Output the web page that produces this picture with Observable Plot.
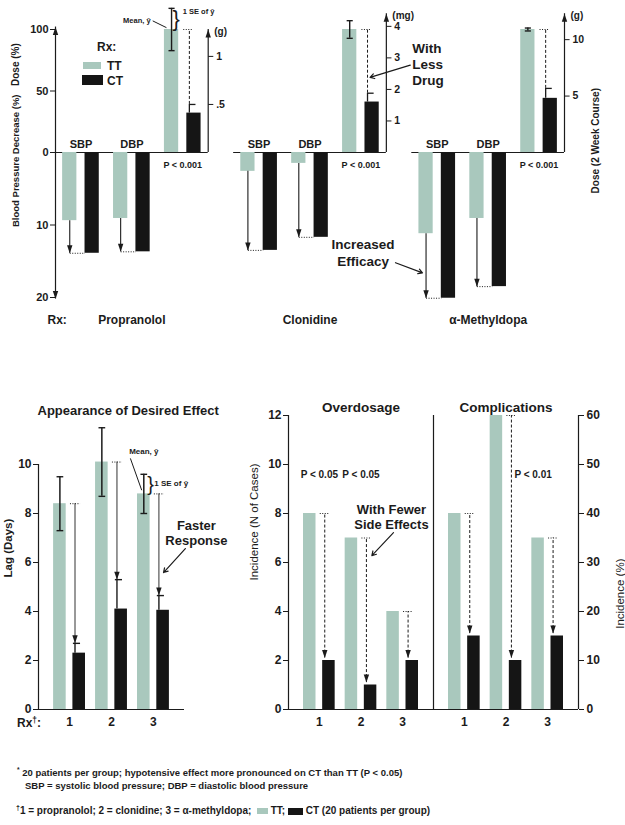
<!DOCTYPE html>
<html>
<head>
<meta charset="utf-8">
<script src="https://cdn.jsdelivr.net/npm/d3@7"></script>
<script src="https://cdn.jsdelivr.net/npm/@observablehq/plot@0.6"></script>
<style>
  body { margin: 0; background: #fff; }
  #fig { position: relative; width: 625px; height: 825px; background: #fff; color: #1b1b1b;
         font-family: "Liberation Sans", Arial, Helvetica, sans-serif; font-weight: bold; overflow: hidden; }
  #fig .html { position: absolute; white-space: nowrap; line-height: 1; }
  #fig .sw { display: inline-block; vertical-align: middle; }
  #fig sup { font-size: 70%; vertical-align: 4px; line-height: 0; }
</style>
</head>
<body>
<div id="fig"></div>
<script>
// ---------- Dose and blood-pressure response by drug ----------
const drugs = ["Propranolol", "Clonidine", "α-Methyldopa"];
const measures = ["SBP", "DBP"];
// blood pressure decrease (%)
const sbpTT = [9.4, 2.6, 11.2];
const sbpCT = [13.9, 13.5, 20.1];
const dbpTT = [9.1, 1.5, 9.1];
const dbpCT = [13.7, 11.7, 18.5];
// mean dose over the 2 week course, in each drug's own unit, with SE
const doseUnits = ["g", "mg", "g"];
const doseTT = [1.28, 3.9, 10.9];
const doseTTse = [0.22, 0.28, 0.13];
const doseCT = [0.41, 1.6, 4.8];
const doseCTse = [0.09, 0.28, 0.88];
const doseTicks = [[0.5, 1], [1, 2, 3, 4], [5, 10]];
const doseTickLabels = [[".5", "1"], ["1", "2", "3", "4"], ["5", "10"]];
const doseAxisMax = [1.28, 4.4, 12.3];
const pctTicks = [0, 50, 100];
const bpTicks = [10, 20];

// ---------- Lag, overdosage and complications ----------
const rx = [1, 2, 3];
const lagTT = [8.4, 10.1, 8.8];
const lagTTse = [1.1, 1.4, 0.8];
const lagCT = [2.3, 4.1, 4.05];
const lagCTse = [0.4, 1.2, 0.6];
const lagTicks = [0, 2, 4, 6, 8, 10];
const panels = ["Overdosage", "Complications"];
const overdoseTT = [8, 7, 4];
const overdoseCT = [2, 1, 2];
const complicationTT = [8, 12, 7];
const complicationCT = [3, 2, 3];
const patientsPerGroup = 20;
const caseTicks = [0, 2, 4, 6, 8, 10, 12];
const pTests = [
  {panel: "Overdosage", rx: 1, label: "P < 0.05"},
  {panel: "Overdosage", rx: 2, label: "P < 0.05"},
  {panel: "Complications", rx: 2, label: "P < 0.01"}
];

// ---------- shared styling ----------
const ink = "#1b1b1b", ttFill = "#a9c8bd", ctFill = "#151515";
const baseStyle = {background: "transparent", color: ink, overflow: "visible",
  fontFamily: "'Liberation Sans', Arial, Helvetica, sans-serif", fontSize: "11px", fontWeight: "bold"};
const K = v => () => v;
// filled arrowheads with the tip at the data point
const headUp = {draw(c) { c.moveTo(0, 0); c.lineTo(-2.7, 8); c.lineTo(2.7, 8); c.closePath(); }};
const headDown = {draw(c) { c.moveTo(0, 0); c.lineTo(-2.7, -8); c.lineTo(2.7, -8); c.closePath(); }};

const fig = document.getElementById("fig");
function place(node, left, top) {
  node.style.position = "absolute";
  node.style.left = left + "px";
  node.style.top = top + "px";
  fig.appendChild(node);
}
function html(text, left, top, size, extra = "") {
  const el = document.createElement("div");
  el.className = "html";
  el.innerHTML = text;
  el.style.cssText += `left:${left}px;top:${top}px;font-size:${size}px;${extra}`;
  fig.appendChild(el);
}

// ---------- top figure geometry (x in slot units) ----------
const GROUP = 3.5, OFF = 0.22, HALF = 0.14, EDGE = 0.05;
const center = (i, c) => i * GROUP + c + 0.5;
const doseRows = drugs.map((drug, i) => ({
  i, drug, x: center(i, 2),
  tt: 100, ttSe: 100 * doseTTse[i] / doseTT[i],
  ct: 100 * doseCT[i] / doseTT[i], ctSe: 100 * doseCTse[i] / doseTT[i],
  right: i * GROUP + 3, top: 100 * doseAxisMax[i] / doseTT[i], unit: `(${doseUnits[i]})`
}));
const doseTickRows = drugs.flatMap((d, i) => doseTicks[i].map((v, k) => ({
  right: i * GROUP + 3, y: 100 * v / doseTT[i], label: doseTickLabels[i][k]
})));
const bpRows = drugs.flatMap((drug, i) => [
  {i, c: 0, x: center(i, 0), tt: sbpTT[i], ct: sbpCT[i]},
  {i, c: 1, x: center(i, 1), tt: dbpTT[i], ct: dbpCT[i]}
]);
const ttX = d => d.x - OFF, ctX = d => d.x + OFF, leadX = d => d.x + OFF - HALF + EDGE;
const groupIdx = drugs.map((d, i) => i);

// ---- dose, above the baseline ----
const dosePlot = Plot.plot({
  width: 625, height: 160, marginLeft: 55, marginRight: 61, marginTop: 29, marginBottom: 8,
  x: {domain: [0, 10], axis: null},
  y: {domain: [0, 100], axis: null},
  style: baseStyle,
  marks: [
    Plot.ruleX([0], {x: K(0), y1: K(0), y2: K(102), stroke: ink, strokeWidth: 1.2}),
    Plot.dot([0], {x: K(0), y: K(102), symbol: headUp, fill: ink}),
    Plot.axisY({ticks: pctTicks, tickSize: 5, tickPadding: 2, fontSize: 11, label: null}),
    Plot.text(["Dose (%)"], {frameAnchor: "left", rotate: -90, dx: -40, dy: -5, fontSize: 10}),
    Plot.ruleY(groupIdx, {x1: i => i * GROUP, x2: i => i * GROUP + 3, y: K(0), stroke: ink, strokeWidth: 1.2}),
    Plot.text(bpRows, {x: "x", y: K(0), dy: -8, text: d => measures[d.c], fontSize: 11}),
    // bars
    Plot.rectY(doseRows, {x1: d => ttX(d) - HALF, x2: d => ttX(d) + HALF, y1: K(0), y2: "tt", fill: ttFill}),
    Plot.rectY(doseRows, {x1: d => ctX(d) - HALF, x2: d => ctX(d) + HALF, y1: K(0), y2: "ct", fill: ctFill}),
    // SE of the mean
    Plot.ruleX(doseRows, {x: ttX, y1: d => d.tt - d.ttSe, y2: d => d.tt + d.ttSe, stroke: ink, strokeWidth: 1.4}),
    Plot.link(doseRows.flatMap(d => [d.tt - d.ttSe, d.tt + d.ttSe].map(y => ({x: ttX(d), y}))),
      {x1: d => d.x - 0.06, x2: d => d.x + 0.06, y1: "y", y2: "y", stroke: ink, strokeWidth: 1.4}),
    Plot.ruleX(doseRows, {x: leadX, y1: "ct", y2: d => d.ct + d.ctSe, stroke: ink, strokeWidth: 1.3}),
    Plot.link(doseRows, {x1: leadX, x2: d => leadX(d) + 0.12, y1: d => d.ct + d.ctSe, y2: d => d.ct + d.ctSe, stroke: ink, strokeWidth: 1.3}),
    // TT level carried over to CT
    Plot.ruleX(doseRows, {x: leadX, y1: d => d.ct + d.ctSe, y2: "tt", stroke: ink, strokeWidth: 1, strokeDasharray: "3,2"}),
    Plot.link(doseRows, {x1: d => leadX(d) - 0.12, x2: d => leadX(d) + 0.07, y1: "tt", y2: "tt", stroke: ink, strokeWidth: 1, strokeDasharray: "1,1.5"}),
    // per-drug dose axes
    Plot.ruleX(doseRows, {x: "right", y1: K(0), y2: "top", stroke: ink, strokeWidth: 1.2}),
    Plot.dot(doseRows, {x: "right", y: "top", symbol: headUp, fill: ink}),
    Plot.link(doseTickRows, {x1: "right", x2: d => d.right + 0.1, y1: "y", y2: "y", stroke: ink}),
    Plot.text(doseTickRows, {x: "right", y: "y", text: "label", dx: 8, textAnchor: "start", fontSize: 10.5}),
    Plot.text(doseRows, {x: "right", y: "top", text: "unit", dx: 6, dy: 2, textAnchor: "start", fontSize: 10}),
    Plot.text(["Dose (2 Week Course)"], {frameAnchor: "right", rotate: -90, dx: 31, dy: -3, fontSize: 10}),
    // mean / SE key on the first dose bar
    Plot.text(doseRows.slice(0, 1), {x: ttX, y: "tt", dx: -21, dy: -9, text: K("Mean, ȳ"), textAnchor: "end", fontSize: 7.5}),
    Plot.link(doseRows.slice(0, 1), {x1: d => ttX(d) - 0.37, y1: d => d.tt + 7, x2: d => ttX(d) - 0.1, y2: d => d.tt + 1.5, stroke: ink, strokeWidth: 1}),
    Plot.text(doseRows.slice(0, 1), {x: d => ttX(d) + 0.09, y: d => d.tt + d.ttSe / 2, text: K("}"), fontSize: 22, fontWeight: "normal"}),
    Plot.text(doseRows.slice(0, 1), {x: d => ttX(d) + 0.22, y: d => d.tt + d.ttSe, dy: 3, text: K("1 SE of ȳ"), textAnchor: "start", fontSize: 7.5}),
    // less drug
    Plot.text(doseRows.slice(1, 2), {x: "right", y: "ct", dx: 26, dy: -38, text: K("With\nLess\nDrug"), textAnchor: "start", fontSize: 13.5, lineHeight: 1.18}),
    Plot.arrow(doseRows.slice(1, 2), {x1: d => leadX(d) + 0.84, y1: d => d.ct + 30, x2: d => leadX(d) + 0.05, y2: d => d.ct + 20,
      stroke: ink, strokeWidth: 1.2, headLength: 6})
  ]
});
place(dosePlot, 0, 0);

// ---- blood pressure decrease, below the baseline ----
const efficacy = bpRows.filter(d => d.i === 2 && d.c === 0);
const bpPlot = Plot.plot({
  width: 625, height: 190, marginLeft: 55, marginRight: 61, marginTop: 8, marginBottom: 37,
  x: {domain: [0, 10], axis: null},
  y: {domain: [0, 20], reverse: true, axis: null},
  style: baseStyle,
  marks: [
    Plot.ruleX([0], {x: K(0), y1: K(0), y2: K(20.2), stroke: ink, strokeWidth: 1.2}),
    Plot.dot([0], {x: K(0), y: K(20.2), symbol: headDown, fill: ink}),
    Plot.axisY({ticks: bpTicks, tickSize: 5, tickPadding: 2, fontSize: 11, label: null}),
    Plot.text(["Blood Pressure Decrease (%)"], {frameAnchor: "left", rotate: -90, dx: -40, dy: 2, fontSize: 9.5}),
    Plot.rectY(bpRows, {x1: d => ttX(d) - HALF, x2: d => ttX(d) + HALF, y1: K(0), y2: "tt", fill: ttFill}),
    Plot.rectY(bpRows, {x1: d => ctX(d) - HALF, x2: d => ctX(d) + HALF, y1: K(0), y2: "ct", fill: ctFill}),
    Plot.ruleX(bpRows, {x: ttX, y1: "tt", y2: "ct", stroke: ink, strokeWidth: 1.1}),
    Plot.dot(bpRows, {x: ttX, y: "ct", symbol: headDown, fill: ink}),
    Plot.link(bpRows, {x1: ttX, x2: d => ctX(d) - HALF, y1: "ct", y2: "ct", stroke: ink, strokeWidth: 1, strokeDasharray: "1,1.5"}),
    Plot.text(doseRows, {x: "x", y: K(0), dy: 13, text: K("P < 0.001"), fontSize: 9}),
    Plot.text(drugs, {x: (d, i) => center(i, 1), y: K(20), dy: 23, text: d => d, fontSize: 12}),
    Plot.text(["Rx:"], {x: K(0), y: K(20), dx: -8, dy: 23, textAnchor: "start", fontSize: 12}),
    Plot.text(efficacy, {x: ttX, y: "ct", dx: -63, dy: -46, text: K("Increased\nEfficacy"), fontSize: 13.5, lineHeight: 1.2}),
    Plot.arrow(efficacy, {x1: d => ttX(d) - 0.6, y1: d => d.ct - 4.9, x2: d => ttX(d) - 0.07, y2: d => d.ct - 3.5,
      stroke: ink, strokeWidth: 1.2, headLength: 6})
  ]
});
place(bpPlot, 0, 144);

// ---------- bottom panels (x in Rx units) ----------
const XDOM = [0.26, 3.74];
const OFF2 = 0.23, HALF2 = 0.15, EDGE2 = 0.05;
const tx = d => d.rx - OFF2, cxx = d => d.rx + OFF2, lx = d => d.rx + OFF2 - HALF2 + EDGE2;
const lagRows = rx.map((r, k) => ({rx: r, tt: lagTT[k], ttSe: lagTTse[k], ct: lagCT[k], ctSe: lagCTse[k]}));
const lagKey = lagRows.slice(2, 3);
const rxFormat = d => String(d);

const lagPlot = Plot.plot({
  width: 250, height: 360, marginLeft: 38, marginRight: 66, marginTop: 35, marginBottom: 31,
  x: {domain: XDOM, axis: null},
  y: {domain: [0, 12], axis: null},
  style: baseStyle,
  marks: [
    Plot.text(["Appearance of Desired Effect"], {frameAnchor: "top-left", dx: -1, dy: -10, textAnchor: "start", fontSize: 13}),
    Plot.ruleY([0], {y: K(0), stroke: ink, strokeWidth: 1.2}),
    Plot.ruleX([0], {x: K(XDOM[0]), y1: K(0), y2: K(10), stroke: ink, strokeWidth: 1.2}),
    Plot.axisY({ticks: lagTicks, tickSize: 5, tickPadding: 2, fontSize: 12, label: null}),
    Plot.axisX({ticks: rx, tickFormat: rxFormat, tickSize: 0, tickPadding: 8, fontSize: 12, label: null}),
    Plot.text(["Lag (Days)"], {frameAnchor: "left", rotate: -90, dx: -30, dy: 15, fontSize: 11.5}),
    Plot.rectY(lagRows, {x1: d => tx(d) - HALF2, x2: d => tx(d) + HALF2, y1: K(0), y2: "tt", fill: ttFill}),
    Plot.rectY(lagRows, {x1: d => cxx(d) - HALF2, x2: d => cxx(d) + HALF2, y1: K(0), y2: "ct", fill: ctFill}),
    Plot.ruleX(lagRows, {x: tx, y1: d => d.tt - d.ttSe, y2: d => d.tt + d.ttSe, stroke: ink, strokeWidth: 1.5}),
    Plot.link(lagRows.flatMap(d => [d.tt - d.ttSe, d.tt + d.ttSe].map(y => ({x: tx(d), y}))),
      {x1: d => d.x - 0.08, x2: d => d.x + 0.08, y1: "y", y2: "y", stroke: ink, strokeWidth: 1.4}),
    Plot.ruleX(lagRows, {x: lx, y1: "ct", y2: d => d.ct + d.ctSe, stroke: ink, strokeWidth: 1.4}),
    Plot.link(lagRows, {x1: d => lx(d) - 0.05, x2: d => lx(d) + 0.12, y1: d => d.ct + d.ctSe, y2: d => d.ct + d.ctSe, stroke: ink, strokeWidth: 1.4}),
    Plot.ruleX(lagRows, {x: lx, y1: d => d.ct + d.ctSe, y2: "tt", stroke: ink, strokeWidth: 0.9}),
    Plot.dot(lagRows, {x: lx, y: d => d.ct + d.ctSe, symbol: headDown, fill: ink}),
    Plot.link(lagRows, {x1: d => lx(d) - 0.12, x2: d => lx(d) + 0.12, y1: "tt", y2: "tt", stroke: ink, strokeWidth: 1, strokeDasharray: "1,1.5"}),
    // mean / SE key
    Plot.text(lagKey, {x: tx, y: "tt", dy: -42, text: K("Mean, ȳ"), fontSize: 8}),
    Plot.link(lagKey, {x1: d => tx(d) - 0.32, y1: d => d.tt + 1.45, x2: d => tx(d) - 0.05, y2: d => d.tt + 0.15, stroke: ink, strokeWidth: 1}),
    Plot.text(lagKey, {x: d => tx(d) + 0.16, y: d => d.tt + d.ttSe / 2, text: K("}"), fontSize: 20, fontWeight: "normal"}),
    Plot.text(lagKey, {x: d => tx(d) + 0.25, y: d => d.tt + 0.42, text: K("1 SE of ȳ"), textAnchor: "start", fontSize: 8}),
    // faster response
    Plot.text(lagKey, {x: lx, y: "tt", dx: 37.5, dy: 39, text: K("Faster\nResponse"), fontSize: 13, lineHeight: 1.15}),
    Plot.arrow(lagKey, {x1: d => lx(d) + 0.63, y1: d => d.tt - 2.23, x2: d => lx(d) + 0.11, y2: d => d.tt - 3.21,
      stroke: ink, strokeWidth: 1.2, headLength: 6})
  ]
});
place(lagPlot, 0, 380);

// ---- incidence of overdosage and complications ----
const incRows = [
  ...rx.map((r, k) => ({panel: "Overdosage", rx: r, tt: overdoseTT[k], ct: overdoseCT[k]})),
  ...rx.map((r, k) => ({panel: "Complications", rx: r, tt: complicationTT[k], ct: complicationCT[k]}))
];
const fewer = incRows.filter(d => d.panel === "Overdosage" && d.rx === 2);
const panelLines = [
  {panel: "Overdosage", x: XDOM[0]}, {panel: "Overdosage", x: XDOM[1]}, {panel: "Complications", x: XDOM[1]}
];
const pRows = pTests.map(p => ({...p, row: incRows.find(d => d.panel === p.panel && d.rx === p.rx)}));

const incPlot = Plot.plot({
  width: 395, height: 360, marginLeft: 57, marginRight: 47, marginTop: 35, marginBottom: 31,
  fx: {domain: panels, padding: 0, axis: null},
  x: {domain: XDOM, axis: null},
  y: {domain: [0, 12], axis: null},
  style: baseStyle,
  marks: [
    Plot.text(panels, {fx: d => d, frameAnchor: "top", dy: -13, text: d => d, fontSize: 13.5}),
    Plot.ruleY([0], {y: K(0), stroke: ink, strokeWidth: 1.2}),
    Plot.ruleX(panelLines, {fx: "panel", x: "x", y1: K(0), y2: K(12), stroke: ink, strokeWidth: 1.2}),
    Plot.axisY({anchor: "left", ticks: caseTicks, tickSize: 5, tickPadding: 2, fontSize: 12, label: null}),
    Plot.axisY({anchor: "right", ticks: caseTicks, tickFormat: d => d * 100 / patientsPerGroup,
      tickSize: 5, tickPadding: 3, fontSize: 12, label: null}),
    Plot.axisX({ticks: rx, tickFormat: rxFormat, tickSize: 0, tickPadding: 8, fontSize: 12, label: null}),
    Plot.text(["Incidence (N of Cases)"], {fx: K("Overdosage"), frameAnchor: "left", rotate: -90, dx: -34, dy: 18, fontSize: 11.5, fontWeight: "normal"}),
    Plot.text(["Incidence (%)"], {fx: K("Complications"), frameAnchor: "right", rotate: -90, dx: 42, dy: -4, fontSize: 11.5, fontWeight: "normal"}),
    Plot.rectY(incRows, {fx: "panel", x1: d => tx(d) - HALF2, x2: d => tx(d) + HALF2, y1: K(0), y2: "tt", fill: ttFill}),
    Plot.rectY(incRows, {fx: "panel", x1: d => cxx(d) - HALF2, x2: d => cxx(d) + HALF2, y1: K(0), y2: "ct", fill: ctFill}),
    Plot.ruleX(incRows, {fx: "panel", x: lx, y1: d => d.ct + 0.1, y2: "tt", stroke: ink, strokeWidth: 1, strokeDasharray: "3,2"}),
    Plot.dot(incRows, {fx: "panel", x: lx, y: d => d.ct + 0.1, symbol: headDown, fill: ink}),
    Plot.link(incRows, {fx: "panel", x1: d => lx(d) - 0.12, x2: d => lx(d) + 0.12, y1: "tt", y2: "tt", stroke: ink, strokeWidth: 1, strokeDasharray: "1,1.5"}),
    Plot.text(pRows.filter(p => p.panel === "Overdosage"), {fx: "panel", x: "rx", frameAnchor: "top", dy: 55, text: "label", fontSize: 10}),
    Plot.text(pRows.filter(p => p.panel === "Complications"), {fx: "panel", x: p => lx(p.row), frameAnchor: "top", dy: 55, dx: 3, text: "label", textAnchor: "start", fontSize: 10}),
    Plot.text(fewer, {fx: "panel", x: lx, y: "tt", dx: 25, dy: -21.5, text: K("With Fewer\nSide Effects"), fontSize: 13, lineHeight: 1.2}),
    Plot.arrow(fewer, {fx: "panel", x1: d => lx(d) + 0.65, y1: d => d.tt + 0.22, x2: d => lx(d) + 0.13, y2: d => d.tt - 0.72,
      stroke: ink, strokeWidth: 1.2, headLength: 6})
  ]
});
place(incPlot, 230, 380);

// ---------- legend, axis key and footnotes ----------
html("Rx:", 97, 41, 12);
html(`<span class="sw" style="width:18px;height:7px;background:${ttFill}"></span>`, 83, 59, 12);
html("TT", 107, 60, 12);
html(`<span class="sw" style="width:21px;height:10px;background:${ctFill}"></span>`, 82, 73, 12);
html("CT", 107, 75, 12);
html("Rx<sup>†</sup>:", 17, 717, 12);
html("<sup>*</sup> 20 patients per group; hypotensive effect more pronounced on CT than TT (P &lt; 0.05)", 17, 768, 9.5);
html("SBP = systolic blood pressure; DBP = diastolic blood pressure", 25, 781, 9.5);
html(`<sup>†</sup>1 = propranolol; 2 = clonidine; 3 = α-methyldopa; &nbsp;<span class="sw" style="width:11px;height:6px;background:${ttFill}"></span> TT; <span class="sw" style="width:15px;height:7px;background:${ctFill}"></span> CT (20 patients per group)`, 16, 806, 10);
</script>
</body>
</html>
